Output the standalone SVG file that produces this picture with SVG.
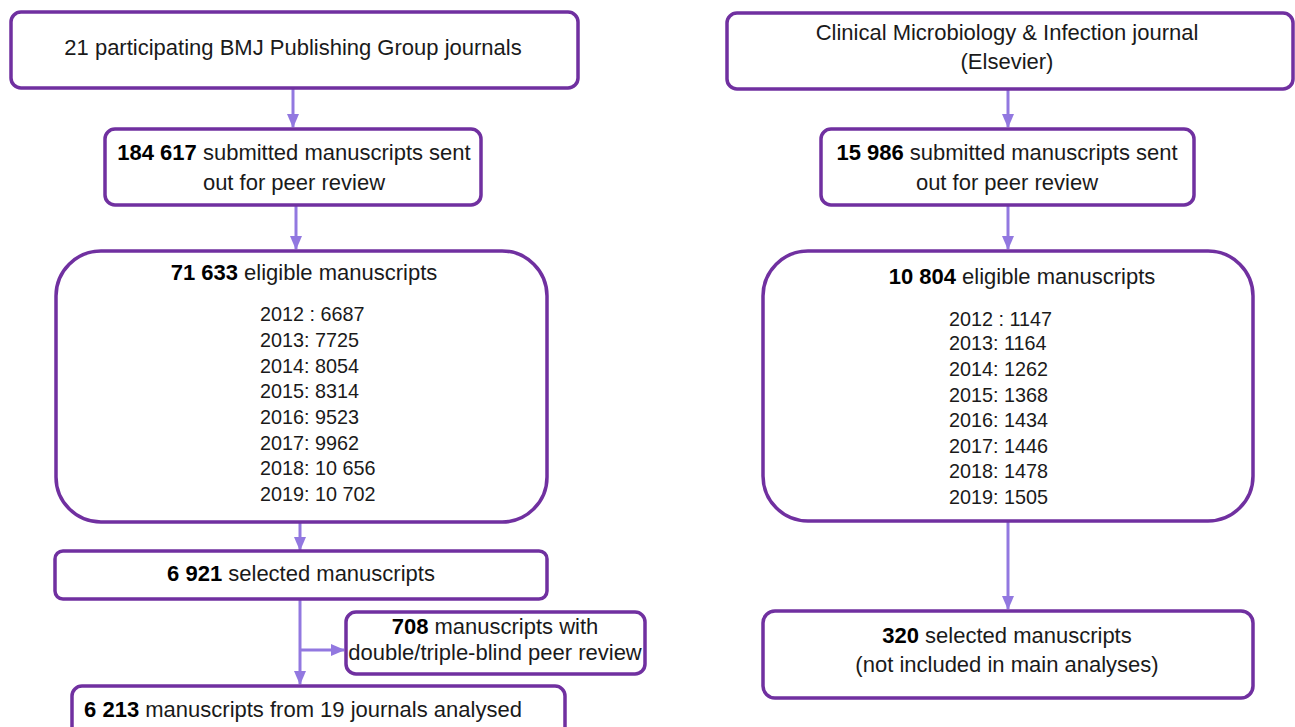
<svg xmlns="http://www.w3.org/2000/svg" width="1295" height="727" viewBox="0 0 1295 727">
<style>
.box{fill:#fff;stroke:#7030A0;stroke-width:3.5}
.t{font-family:"Liberation Sans",Arial,sans-serif;font-size:22px;fill:#1a1a1a;text-anchor:middle}
.y{text-anchor:start;font-size:19.8px}
.b{font-weight:bold;fill:#000}
.c{stroke:#9278E0;stroke-width:3;fill:none}
</style>
<defs>
<marker id="ah" markerUnits="userSpaceOnUse" markerWidth="14" markerHeight="14" viewBox="0 0 14 14" refX="13" refY="7" orient="auto">
<path d="M0,1 L14,7 L0,13 Z" fill="#9278E0"/>
</marker>
</defs>
<g id="connectors">
<line class="c" x1="293" y1="89" x2="293" y2="127" marker-end="url(#ah)"/>
<line class="c" x1="296" y1="206" x2="296" y2="249" marker-end="url(#ah)"/>
<line class="c" x1="300" y1="523" x2="300" y2="550" marker-end="url(#ah)"/>
<line class="c" x1="300" y1="600" x2="300" y2="684" marker-end="url(#ah)"/>
<line class="c" x1="300" y1="650" x2="344" y2="650" marker-end="url(#ah)"/>
<line class="c" x1="1008" y1="90" x2="1008" y2="127" marker-end="url(#ah)"/>
<line class="c" x1="1008" y1="206" x2="1008" y2="249" marker-end="url(#ah)"/>
<line class="c" x1="1008" y1="522" x2="1008" y2="609" marker-end="url(#ah)"/>
</g>
<g id="n1"><rect class="box" x="11" y="12" width="567" height="76" rx="10"/>
<text class="t" x="293" y="55">21 participating BMJ Publishing Group journals</text></g>
<g id="n2"><rect class="box" x="105" y="129" width="376" height="76" rx="10"/>
<text class="t" x="294" y="160"><tspan class="b">184 617</tspan> submitted manuscripts sent</text>
<text class="t" x="294" y="190">out for peer review</text></g>
<g id="n3"><rect class="box" x="56" y="251" width="491" height="271" rx="45"/>
<text class="t" x="304" y="280"><tspan class="b">71 633</tspan> eligible manuscripts</text>
<text class="t y" x="260" y="321">2012 : 6687</text>
<text class="t y" x="260" y="347">2013: 7725</text>
<text class="t y" x="260" y="373">2014: 8054</text>
<text class="t y" x="260" y="398">2015: 8314</text>
<text class="t y" x="260" y="424">2016: 9523</text>
<text class="t y" x="260" y="450">2017: 9962</text>
<text class="t y" x="260" y="475">2018: 10 656</text>
<text class="t y" x="260" y="501">2019: 10 702</text></g>
<g id="n4"><rect class="box" x="55" y="551" width="492" height="48" rx="8"/>
<text class="t" x="301" y="581"><tspan class="b">6 921</tspan> selected manuscripts</text></g>
<g id="n5"><rect class="box" x="346" y="612" width="299" height="62" rx="10"/>
<text class="t" x="495" y="634"><tspan class="b">708</tspan> manuscripts with</text>
<text class="t" x="495" y="660">double/triple-blind peer review</text></g>
<g id="n6"><rect class="box" x="72" y="686" width="493" height="60" rx="10"/>
<text class="t" x="303" y="717"><tspan class="b">6 213</tspan> manuscripts from 19 journals analysed</text></g>
<g id="r1"><rect class="box" x="727" y="13" width="566" height="76" rx="10"/>
<text class="t" x="1007" y="40">Clinical Microbiology &amp; Infection  journal</text>
<text class="t" x="1007" y="69">(Elsevier)</text></g>
<g id="r2"><rect class="box" x="821" y="129" width="373" height="76" rx="10"/>
<text class="t" x="1007" y="160"><tspan class="b">15 986</tspan> submitted manuscripts sent</text>
<text class="t" x="1007" y="190">out for peer review</text></g>
<g id="r3"><rect class="box" x="763" y="251" width="490" height="270" rx="45"/>
<text class="t" x="1022" y="284"><tspan class="b">10 804</tspan> eligible manuscripts</text>
<text class="t y" x="949" y="326">2012 : 1147</text>
<text class="t y" x="949" y="350">2013: 1164</text>
<text class="t y" x="949" y="376">2014: 1262</text>
<text class="t y" x="949" y="402">2015: 1368</text>
<text class="t y" x="949" y="427">2016: 1434</text>
<text class="t y" x="949" y="453">2017: 1446</text>
<text class="t y" x="949" y="478">2018: 1478</text>
<text class="t y" x="949" y="504">2019: 1505</text></g>
<g id="r4"><rect class="box" x="763" y="611" width="490" height="87" rx="12"/>
<text class="t" x="1007" y="643"><tspan class="b">320</tspan> selected manuscripts</text>
<text class="t" x="1007" y="672">(not included in main analyses)</text></g>
</svg>
